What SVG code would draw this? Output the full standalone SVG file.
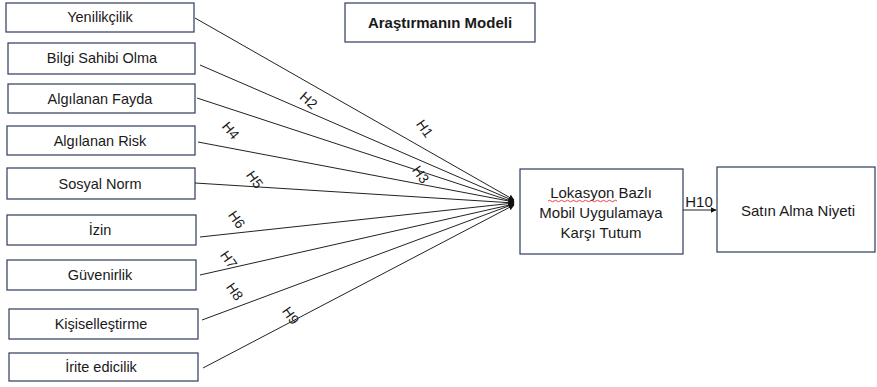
<svg xmlns="http://www.w3.org/2000/svg" width="877" height="387" viewBox="0 0 877 387">
<style>
.box{fill:#fff;stroke:#2e3a5c;stroke-width:1.2}
.t{font-family:"Liberation Sans",Arial,sans-serif;font-size:14.5px;fill:#1a1a1a;text-anchor:middle}
.m{font-size:15px}
.b{font-weight:bold;font-size:15px}
.lbl{font-family:"Liberation Sans",Arial,sans-serif;font-size:14px;fill:#1a1a1a;text-anchor:middle}
.c{stroke:#222;stroke-width:1;fill:none;marker-end:url(#ah)}
</style>
<defs>
<marker id="ah" viewBox="0 0 10 10" refX="9" refY="5" markerWidth="6" markerHeight="6" orient="auto" markerUnits="userSpaceOnUse">
<path d="M0,0 L10,5 L0,10 z" fill="#111"/>
</marker>
</defs>
<rect width="877" height="387" fill="#fff"/>
<g id="title"><rect class="box" x="345" y="3" width="190" height="39"/><text class="t b" x="440" y="28">Araştırmanın Modeli</text></g>
<g id="n1"><rect class="box" x="6" y="3" width="188" height="29"/><text class="t" x="100" y="22">Yenilikçilik</text></g>
<g id="n2"><rect class="box" x="8" y="43" width="187" height="31"/><text class="t" x="102" y="63">Bilgi Sahibi Olma</text></g>
<g id="n3"><rect class="box" x="8" y="84" width="187" height="29"/><text class="t" x="100" y="104">Algılanan Fayda</text></g>
<g id="n4"><rect class="box" x="7" y="126" width="188" height="29"/><text class="t" x="100" y="146">Algılanan Risk</text></g>
<g id="n5"><rect class="box" x="7" y="168" width="188" height="31"/><text class="t" x="100" y="189">Sosyal Norm</text></g>
<g id="n6"><rect class="box" x="7" y="215" width="189" height="30"/><text class="t" x="100" y="235">İzin</text></g>
<g id="n7"><rect class="box" x="7" y="260" width="189" height="30"/><text class="t" x="100" y="280">Güvenirlik</text></g>
<g id="n8"><rect class="box" x="9" y="309" width="189" height="30"/><text class="t" x="101" y="329">Kişiselleştirme</text></g>
<g id="n9"><rect class="box" x="9" y="353" width="189" height="28"/><text class="t" x="101" y="372">İrite edicilik</text></g>
<g id="mid"><rect class="box" x="520" y="169" width="163" height="85"/>
<text class="t m" x="601" y="198">Lokasyon Bazlı</text>
<path d="M548,201 q1.5,-1.5 3,0 t3,0 t3,0 t3,0 t3,0 t3,0 t3,0 t3,0 t3,0 t3,0 t3,0 t3,0 t3,0 t3,0 t3,0 t3,0 t3,0 t3,0 t3,0 t3,0 t3,0 t3,0 t3,0" fill="none" stroke="#e03030" stroke-width="0.9"/>
<text class="t m" x="601" y="218">Mobil Uygulamaya</text>
<text class="t m" x="601" y="238">Karşı Tutum</text></g>
<g id="out"><rect class="box" x="717" y="167" width="158" height="85"/><text class="t m" x="798" y="216">Satın Alma Niyeti</text></g>
<g id="connectors">
<line class="c" x1="195" y1="18" x2="514" y2="200"/>
<line class="c" x1="200" y1="65" x2="514" y2="201"/>
<line class="c" x1="197" y1="98" x2="514" y2="202"/>
<line class="c" x1="198" y1="142" x2="514" y2="202"/>
<line class="c" x1="195" y1="183" x2="514" y2="203"/>
<line class="c" x1="200" y1="237" x2="514" y2="203"/>
<line class="c" x1="200" y1="275" x2="514" y2="204"/>
<line class="c" x1="202" y1="320" x2="514" y2="204"/>
<line class="c" x1="203" y1="368" x2="514" y2="205"/>
<line class="c" x1="683" y1="210" x2="716" y2="210"/>
<text class="lbl" transform="translate(424,129) rotate(55)" dy="4">H1</text>
<text class="lbl" transform="translate(308,101) rotate(42)" dy="4">H2</text>
<text class="lbl" transform="translate(420,175) rotate(55)" dy="4">H3</text>
<text class="lbl" transform="translate(230,131) rotate(50)" dy="4">H4</text>
<text class="lbl" transform="translate(254,180) rotate(55)" dy="4">H5</text>
<text class="lbl" transform="translate(236,220) rotate(55)" dy="4">H6</text>
<text class="lbl" transform="translate(228,260) rotate(55)" dy="4">H7</text>
<text class="lbl" transform="translate(234,292) rotate(55)" dy="4">H8</text>
<text class="lbl" transform="translate(290,316) rotate(55)" dy="4">H9</text>
<text class="lbl" x="699" y="207" style="font-size:15px">H10</text>
</g>
</svg>
